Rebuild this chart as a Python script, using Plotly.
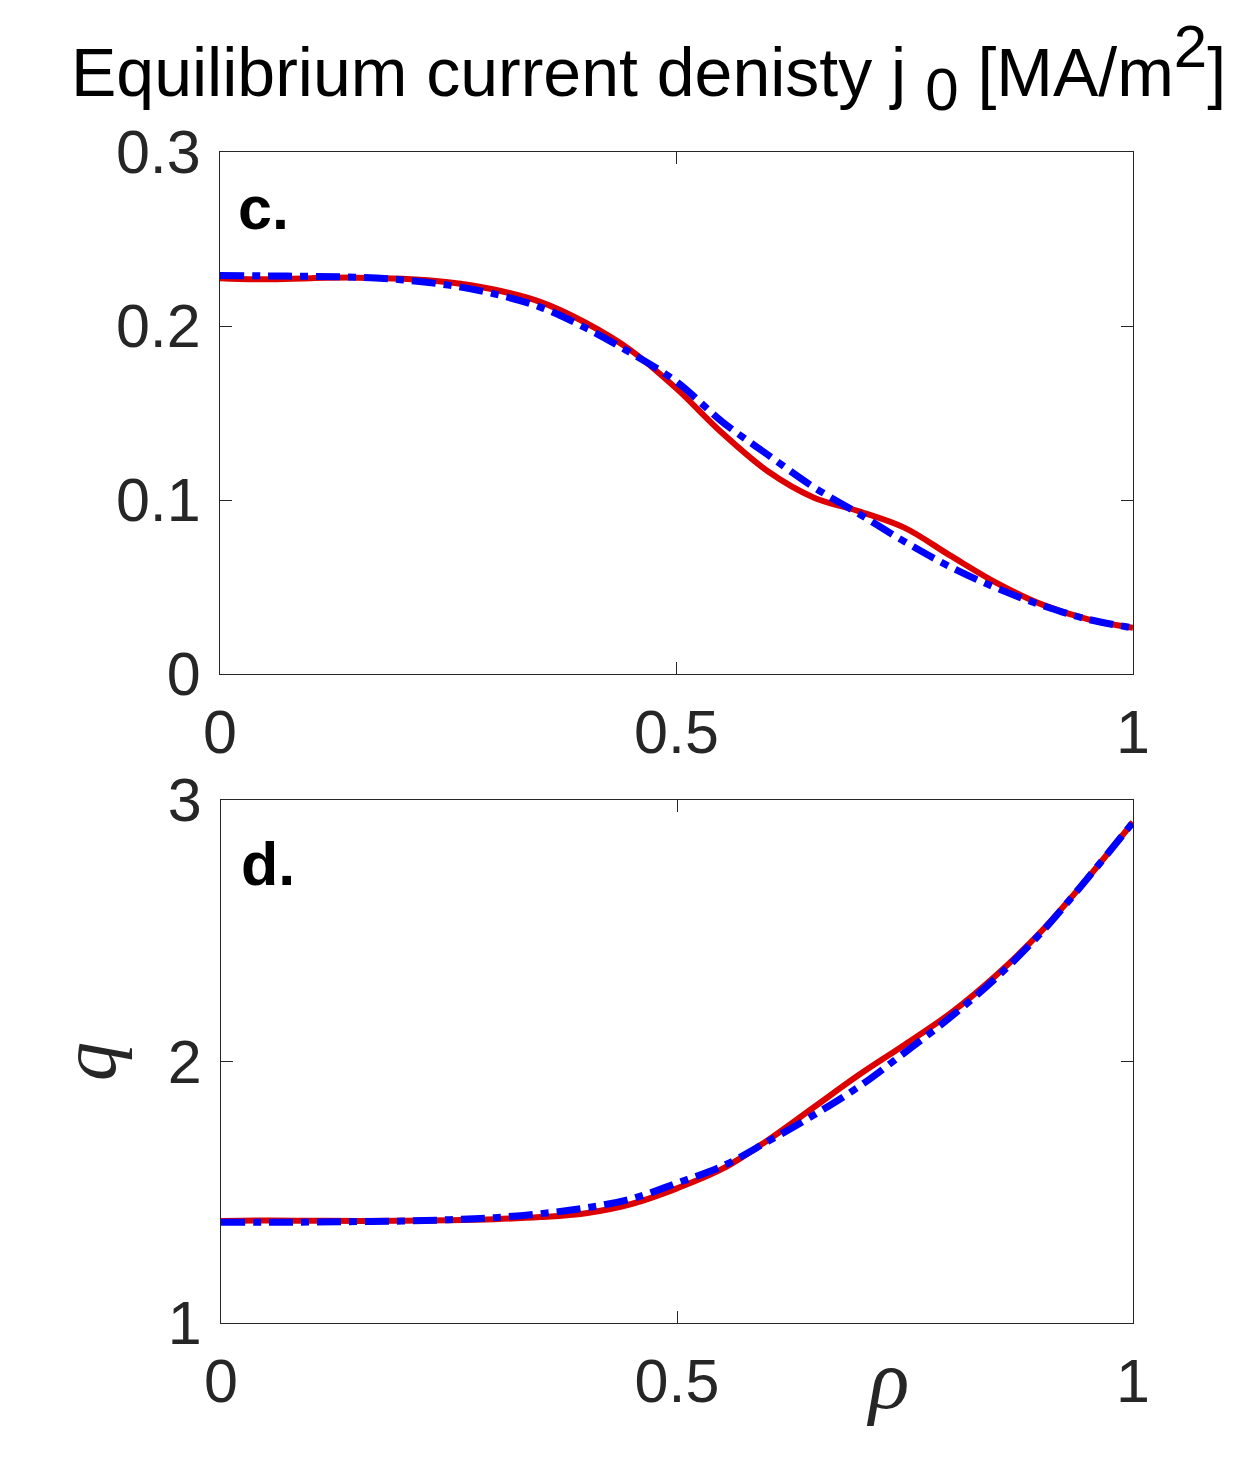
import plotly.graph_objects as go

FONT = "Liberation Sans, Arial, Helvetica, sans-serif"
SERIF = "Liberation Serif, DejaVu Serif, serif"
TXT = "#262626"

rho = [0.0, 0.05, 0.1, 0.15, 0.2, 0.25, 0.3, 0.35, 0.4, 0.45, 0.5,
       0.55, 0.6, 0.65, 0.7, 0.75, 0.8, 0.85, 0.9, 0.95, 1.0]

# j0 [MA/m^2]
j0_red = [0.2275, 0.2268, 0.2275, 0.2278, 0.2272, 0.2252, 0.2210, 0.2140, 0.2020, 0.1860, 0.1640,
          0.1385, 0.1165, 0.1015, 0.0935, 0.0840, 0.0680, 0.0525, 0.0400, 0.0315, 0.0265]
j0_blue = [0.2290, 0.2288, 0.2285, 0.2280, 0.2265, 0.2235, 0.2185, 0.2110, 0.1990, 0.1845, 0.1680,
           0.1450, 0.1260, 0.1075, 0.0920, 0.0760, 0.0615, 0.0495, 0.0395, 0.0315, 0.0265]

# safety factor q
q_red = [1.390, 1.392, 1.391, 1.390, 1.391, 1.393, 1.397, 1.405, 1.420, 1.455, 1.515,
         1.590, 1.700, 1.825, 1.950, 2.065, 2.185, 2.330, 2.500, 2.700, 2.915]
q_blue = [1.385, 1.385, 1.386, 1.388, 1.390, 1.395, 1.403, 1.418, 1.440, 1.475, 1.535,
          1.600, 1.695, 1.795, 1.905, 2.035, 2.170, 2.320, 2.495, 2.700, 2.915]

W, H = 1252, 1458
OFF = 8  # page body margin


def px_x(p):
    return (p - OFF) / W


def px_y(p):
    return 1 - (p - OFF) / H


fig = go.Figure()
for ax, (yr, yb) in zip(["", "2"], [(j0_red, j0_blue), (q_red, q_blue)]):
    fig.add_trace(go.Scatter(x=rho, y=yr, mode="lines", line=dict(color="#dd0000", width=6, shape="spline"),
                             xaxis="x" + ax, yaxis="y" + ax, showlegend=False))
    fig.add_trace(go.Scatter(x=rho, y=yb, mode="lines",
                             line=dict(color="#0000ff", width=7, shape="spline", dash="24px,8px,8px,8px"),
                             xaxis="x" + ax, yaxis="y" + ax, showlegend=False))

axis_common = dict(showline=True, linecolor=TXT, linewidth=1.2, mirror="ticks", ticks="inside",
                   ticklen=12, tickcolor=TXT, showgrid=False, zeroline=False, automargin=False,
                   tickfont=dict(family=FONT, size=61, color=TXT))

fig.update_layout(
    width=W, height=H, margin=dict(l=0, r=0, t=0, b=0),
    plot_bgcolor="white", paper_bgcolor="white",
    xaxis=dict(axis_common, domain=[px_x(220), px_x(1133)], anchor="y", range=[0, 1],
               tickvals=[0, 0.5, 1], ticktext=["0", "0.5", "1"], ticklabelstandoff=5),
    yaxis=dict(axis_common, domain=[px_y(674), px_y(152)], anchor="x", range=[0, 0.3],
               tickvals=[0, 0.1, 0.2, 0.3], ticktext=["0", "0.1", "0.2", "0.3"], ticklabelstandoff=6),
    xaxis2=dict(axis_common, domain=[px_x(221), px_x(1133)], anchor="y2", range=[0, 1],
                tickvals=[0, 0.5, 1], ticktext=["0", "0.5", "1"], ticklabelstandoff=5),
    yaxis2=dict(axis_common, domain=[px_y(1323), px_y(800)], anchor="x2", range=[1, 3],
                tickvals=[1, 2, 3], ticktext=["1", "2", "3"], ticklabelstandoff=6),
)

title = ("Equilibrium current denisty j <sub><span style='font-size:60px'>0</span></sub> "
         "[MA/m<sup><span style='font-size:60px'>2</span></sup>]")
annos = [
    dict(text=title, x=px_x(648), y=px_y(68), font=dict(family=FONT, size=68, color="black")),
    dict(text="<b>c.</b>", x=px_x(263), y=px_y(208), font=dict(family=FONT, size=61, color="black")),
    dict(text="<b>d.</b>", x=px_x(268), y=px_y(864), font=dict(family=FONT, size=61, color="black")),
    dict(text="<i>q</i>", x=px_x(88), y=px_y(1062), textangle=-90,
         font=dict(family=SERIF, size=78, color=TXT)),
    dict(text="<i>ρ</i>", x=px_x(887), y=px_y(1379),
         font=dict(family=SERIF, size=84, color=TXT)),
]
for a in annos:
    fig.add_annotation(xref="paper", yref="paper", showarrow=False, xanchor="center", yanchor="middle", **a)

fig.write_html("out.html")
